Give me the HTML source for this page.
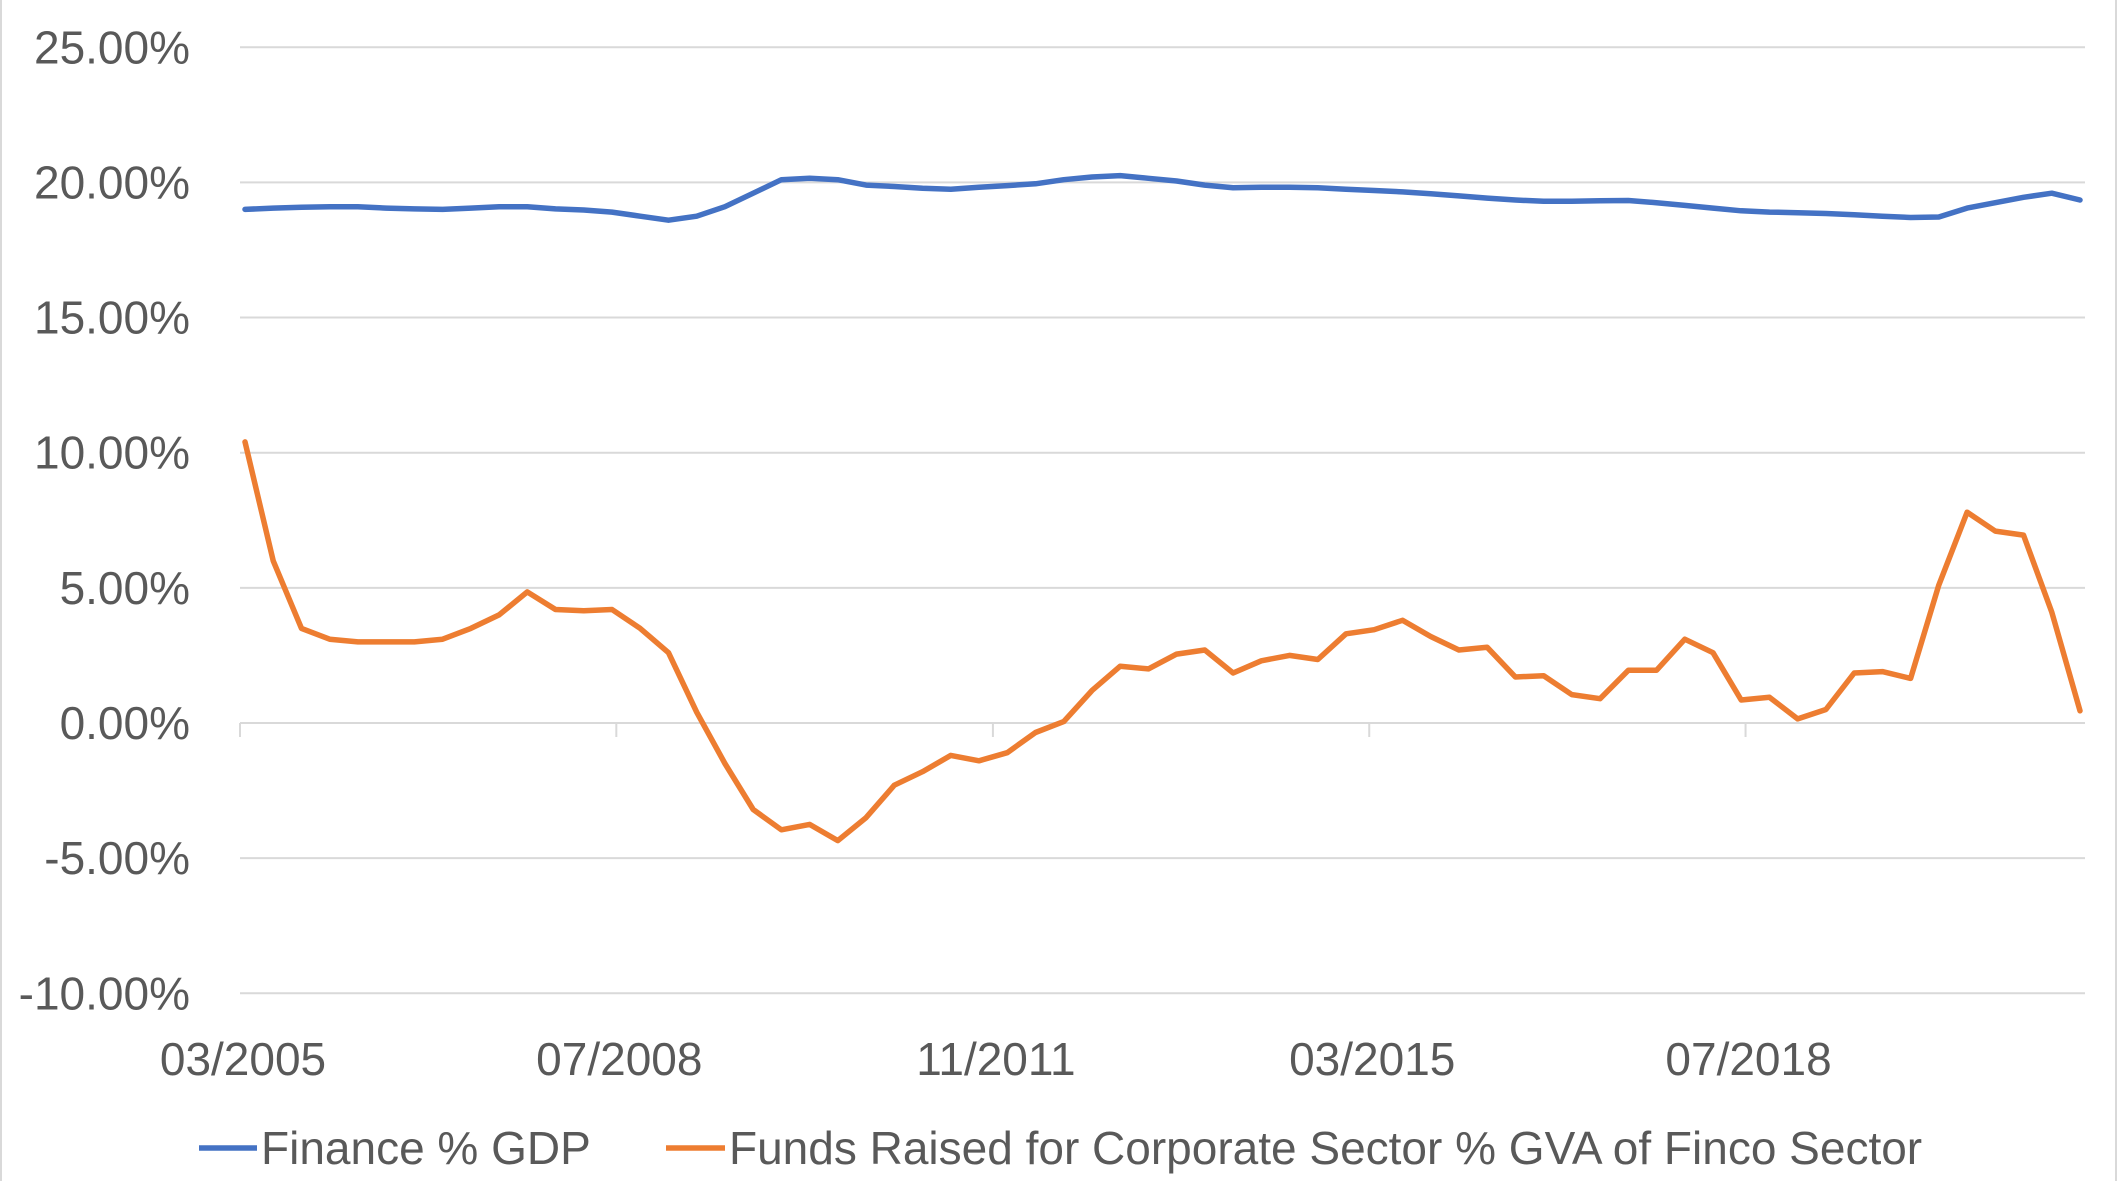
<!DOCTYPE html>
<html><head><meta charset="utf-8"><style>
html,body{margin:0;padding:0;background:#fff;}
svg{display:block;font-family:"Liberation Sans",sans-serif;}
</style></head><body>
<svg id="chart" width="2118" height="1181" viewBox="0 0 2118 1181" xmlns="http://www.w3.org/2000/svg">
<rect x="0" y="0" width="2118" height="1181" fill="#fff"/>
<line x1="1" y1="0" x2="1" y2="1181" stroke="#d9d9d9" stroke-width="2"/>
<line x1="2116" y1="0" x2="2116" y2="1181" stroke="#d9d9d9" stroke-width="2"/>
<g id="grid"></g>
<g id="yaxis"></g>
<g id="xaxis"></g>
<g id="series"></g>
<g id="legend">
  <g>
    <line x1="199" y1="1148" x2="257" y2="1148" stroke="#4472c4" stroke-width="5.5"/>
    <text x="261" y="1164" font-size="46" fill="#595959">Finance % GDP</text>
  </g>
  <g>
    <line x1="666" y1="1148" x2="725" y2="1148" stroke="#ed7d31" stroke-width="5.5"/>
    <text x="729" y="1164" font-size="46" fill="#595959">Funds Raised for Corporate Sector % GVA of Finco Sector</text>
  </g>
</g>
</svg>
<script>
const yTicks = [25, 20, 15, 10, 5, 0, -5, -10];
const yTickLabels = ["25.00%","20.00%","15.00%","10.00%","5.00%","0.00%","-5.00%","-10.00%"];
const xTickIndex = [0, 13.33, 26.67, 40, 53.33];
const xTickLabels = ["03/2005","07/2008","11/2011","03/2015","07/2018"];
const financeGdp = [19.0,19.05,19.08,19.1,19.1,19.05,19.02,19.0,19.05,19.1,19.1,19.02,18.98,18.9,18.75,18.6,18.75,19.1,19.6,20.1,20.15,20.1,19.9,19.85,19.78,19.75,19.82,19.88,19.95,20.1,20.2,20.25,20.15,20.05,19.9,19.8,19.82,19.82,19.8,19.75,19.7,19.65,19.58,19.5,19.42,19.35,19.3,19.3,19.32,19.33,19.25,19.15,19.05,18.95,18.9,18.88,18.85,18.8,18.75,18.7,18.72,19.05,19.25,19.45,19.6,19.35];
const fundsRaised = [10.4,6.0,3.5,3.1,3.0,3.0,3.0,3.1,3.5,4.0,4.85,4.2,4.15,4.2,3.5,2.6,0.4,-1.5,-3.2,-3.95,-3.75,-4.35,-3.5,-2.3,-1.8,-1.2,-1.4,-1.1,-0.35,0.05,1.2,2.1,2.0,2.55,2.7,1.85,2.3,2.5,2.35,3.3,3.45,3.8,3.2,2.7,2.8,1.7,1.75,1.05,0.9,1.95,1.95,3.1,2.6,0.85,0.95,0.15,0.5,1.85,1.9,1.65,5.1,7.8,7.1,6.95,4.1,0.45];

const NS = "http://www.w3.org/2000/svg";
const plotL = 240, plotR = 2085, y0 = 723, pxPerUnit = 27.03;
const x0 = 245, step = (2080 - 245) / 65;
function yScale(v){ return y0 - v * pxPerUnit; }
function xScale(i){ return x0 + step * i; }
function mk(tag, attrs){ const e = document.createElementNS(NS, tag); for (const k in attrs) e.setAttribute(k, attrs[k]); return e; }

const grid = document.getElementById('grid');
const yaxis = document.getElementById('yaxis');
yTicks.forEach((t, k) => {
  const l = mk('line', {x1: plotL, x2: plotR, y1: yScale(t), y2: yScale(t), stroke: '#d9d9d9', 'stroke-width': 2});
  
  
  grid.appendChild(l);
  const tx = mk('text', {x: 190, y: yScale(t) + 16, 'font-size': 46, fill: '#595959', 'text-anchor': 'end'});
  tx.textContent = yTickLabels[k];
  
  
  yaxis.appendChild(tx);
});
const xaxis = document.getElementById('xaxis');
xTickIndex.forEach((ti, k) => {
  const x = plotL + (xScale(ti) - x0);
  const tk = mk('line', {x1: x, x2: x, y1: y0, y2: y0 + 14, stroke: '#d9d9d9', 'stroke-width': 2});
  
  
  xaxis.appendChild(tk);
  const tx = mk('text', {x: x + 3, y: 1075, 'font-size': 46, fill: '#595959', 'text-anchor': 'middle'});
  tx.textContent = xTickLabels[k];
  
  
  xaxis.appendChild(tx);
});
const series = document.getElementById('series');
function drawLine(vals, color, name){
  const pts = vals.map((v, i) => xScale(i).toFixed(1) + ',' + yScale(v).toFixed(1)).join(' ');
  const p = mk('polyline', {points: pts, fill: 'none', stroke: color, 'stroke-width': 5.5, 'stroke-linejoin': 'round', 'stroke-linecap': 'round'});
  
  
  series.appendChild(p);
}
drawLine(financeGdp, '#4472c4', 'finance-gdp-line');
drawLine(fundsRaised, '#ed7d31', 'funds-raised-line');
</script>
</body></html>
